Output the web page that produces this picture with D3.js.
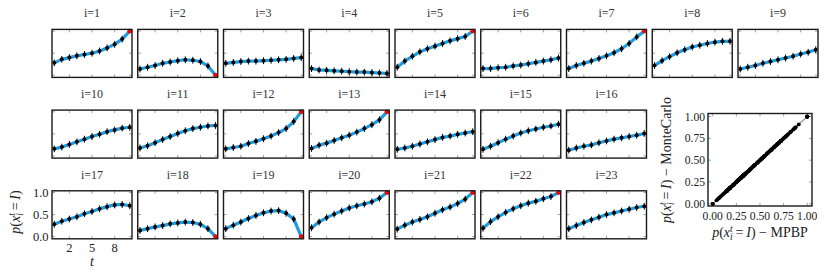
<!DOCTYPE html>
<html><head><meta charset="utf-8">
<script src="https://cdn.jsdelivr.net/npm/d3@7"></script>
<style>body{margin:0;background:#fff} svg{display:block} text{font-family:"Liberation Serif","Times New Roman",serif;}</style>
</head><body><svg id="c" width="831" height="277"></svg>
<script>
// probability of infection p(x_i^t = I) per node i, for t = 0..10
const p1  = [0.28,0.36,0.40,0.44,0.47,0.50,0.55,0.62,0.70,0.82,1.00];
const p2  = [0.14,0.18,0.22,0.27,0.30,0.33,0.35,0.34,0.31,0.21,0.00];
const p3  = [0.27,0.29,0.31,0.32,0.32,0.33,0.34,0.35,0.36,0.38,0.40];
const p4  = [0.15,0.12,0.11,0.10,0.09,0.08,0.07,0.07,0.06,0.05,0.04];
const p5  = [0.18,0.32,0.43,0.53,0.60,0.66,0.72,0.78,0.83,0.88,1.00];
const p6  = [0.15,0.15,0.17,0.18,0.21,0.23,0.26,0.29,0.32,0.35,0.39];
const p7  = [0.15,0.22,0.27,0.32,0.38,0.44,0.51,0.60,0.72,0.87,1.00];
const p8  = [0.22,0.33,0.42,0.51,0.58,0.64,0.68,0.72,0.75,0.77,0.77];
const p9  = [0.14,0.18,0.22,0.27,0.31,0.35,0.39,0.43,0.48,0.52,0.58];
const p10 = [0.16,0.20,0.26,0.32,0.38,0.44,0.49,0.55,0.59,0.63,0.65];
const p11 = [0.18,0.23,0.30,0.37,0.44,0.51,0.57,0.62,0.65,0.68,0.69];
const p12 = [0.16,0.19,0.22,0.28,0.33,0.39,0.45,0.53,0.62,0.78,1.00];
const p13 = [0.17,0.24,0.29,0.35,0.41,0.47,0.54,0.62,0.71,0.82,1.00];
const p14 = [0.15,0.18,0.22,0.27,0.32,0.37,0.42,0.45,0.49,0.52,0.55];
const p15 = [0.15,0.22,0.30,0.38,0.45,0.52,0.57,0.61,0.65,0.68,0.72];
const p16 = [0.13,0.18,0.22,0.25,0.30,0.34,0.38,0.41,0.44,0.47,0.51];
const p17 = [0.28,0.35,0.40,0.45,0.52,0.57,0.63,0.68,0.72,0.73,0.70];
const p18 = [0.14,0.18,0.22,0.25,0.29,0.31,0.33,0.32,0.28,0.18,0.00];
const p19 = [0.18,0.26,0.33,0.41,0.48,0.54,0.58,0.59,0.53,0.40,0.00];
const p20 = [0.20,0.33,0.43,0.51,0.58,0.65,0.70,0.74,0.79,0.87,1.00];
const p21 = [0.17,0.26,0.33,0.39,0.45,0.53,0.61,0.67,0.75,0.85,1.00];
const p22 = [0.19,0.34,0.45,0.55,0.63,0.70,0.76,0.80,0.86,0.91,1.00];
const p23 = [0.18,0.25,0.32,0.38,0.44,0.50,0.54,0.58,0.62,0.66,0.69];
const nodeSeries = [p1,p2,p3,p4,p5,p6,p7,p8,p9,p10,p11,p12,p13,p14,p15,p16,p17,p18,p19,p20,p21,p22,p23];
const nodeTitles = ["i=1","i=2","i=3","i=4","i=5","i=6","i=7","i=8","i=9","i=10","i=11","i=12",
  "i=13","i=14","i=15","i=16","i=17","i=18","i=19","i=20","i=21","i=22","i=23"];
const rowStarts = [1, 10, 17]; // first node of each row of panels
const observedFinal = [1,2,5,7,12,13,18,19,20,21,22]; // nodes whose final state is observed (red)
const timeSteps = [0,1,2,3,4,5,6,7,8,9,10];
const xTickValues = [2,5,8];
const xTickLabels = ["2","5","8"];
const yTickValues = [0,0.5,1];
const yTickLabels = ["0.0","0.5","1.0"];
const scatterTicks = [0,0.25,0.5,0.75,1];
const scatterTickLabels = ["0.00","0.25","0.50","0.75","1.00"];

const svg = d3.select("#c");
const PW = 80, PH = 48, colX0 = 52, colStep = 85.75;
const rowTops = [29.4, 110.1, 190.8];
const BLUE = "#1c9de3", TICK = "#8a8a8a", FRAME = "#1a1a1a";

const x = d3.scaleLinear().domain([-0.3, 10.3]).range([0, PW]);
const y = d3.scaleLinear().domain([-0.05, 1.04]).range([PH, 0]);

function mathLabel(g, tx, ty, rot, suffix, fs) {
  const t = g.append("text")
    .attr("transform", `translate(${tx},${ty}) rotate(${rot})`)
    .attr("text-anchor", "middle").attr("font-size", fs).attr("fill", "#222");
  t.append("tspan").attr("font-style", "italic").text("p");
  t.append("tspan").text("(");
  t.append("tspan").attr("font-style", "italic").text("x");
  t.append("tspan").attr("font-style", "italic").attr("font-size", fs*0.68).attr("dy", -fs*0.38).text("t");
  t.append("tspan").attr("font-style", "italic").attr("font-size", fs*0.68).attr("dx", -fs*0.19).attr("dy", fs*0.6).text("i");
  t.append("tspan").attr("dy", -fs*0.22).text("\u2009=\u2009");
  t.append("tspan").attr("font-style", "italic").text("I");
  t.append("tspan").text(")" + suffix);
}

nodeSeries.forEach((vals, k) => {
  const nodeId = k + 1;
  let row = 0;
  rowStarts.forEach((s, r) => { if (nodeId >= s) row = r; });
  const col = nodeId - rowStarts[row];
  const ox = colX0 + col * colStep, oy = rowTops[row];
  const g = svg.append("g").attr("transform", `translate(${ox},${oy})`);
  const hasObs = observedFinal.includes(nodeId);

  // ticks (inward, all sides)
  xTickValues.forEach(v => {
    g.append("line").attr("x1", x(v)).attr("x2", x(v)).attr("y1", 0).attr("y2", 3).attr("stroke", TICK).attr("stroke-width", 0.8);
    g.append("line").attr("x1", x(v)).attr("x2", x(v)).attr("y1", PH).attr("y2", PH-3).attr("stroke", TICK).attr("stroke-width", 0.8);
  });
  yTickValues.forEach(v => {
    g.append("line").attr("x1", 0).attr("x2", 3).attr("y1", y(v)).attr("y2", y(v)).attr("stroke", TICK).attr("stroke-width", 0.8);
    g.append("line").attr("x1", PW).attr("x2", PW-3).attr("y1", y(v)).attr("y2", y(v)).attr("stroke", TICK).attr("stroke-width", 0.8);
  });

  // MPBP line
  g.append("path").datum(vals)
    .attr("d", d3.line().x((d, i) => x(timeSteps[i])).y(d => y(d)))
    .attr("fill", "none").attr("stroke", BLUE).attr("stroke-width", 3.2).attr("stroke-linejoin", "round");

  // Monte Carlo points with error bars
  const mc = hasObs ? vals.slice(0, vals.length - 1) : vals;
  const pts = g.append("g");
  mc.forEach((d, i) => {
    pts.append("line").attr("x1", x(timeSteps[i])).attr("x2", x(timeSteps[i]))
      .attr("y1", y(d) - 3.4).attr("y2", y(d) + 3.4).attr("stroke", "#000").attr("stroke-width", 1.0);
    pts.append("circle").attr("cx", x(timeSteps[i])).attr("cy", y(d)).attr("r", 2.0).attr("fill", "#000");
  });
  if (hasObs) {
    const last = vals.length - 1;
    g.append("circle").attr("cx", x(timeSteps[last])).attr("cy", y(vals[last])).attr("r", 2.4).attr("fill", "#f00");
  }

  // frame
  g.append("rect").attr("x", 0).attr("y", 0).attr("width", PW).attr("height", PH)
    .attr("fill", "none").attr("stroke", FRAME).attr("stroke-width", 1.4);

  // title
  g.append("text").attr("x", PW/2).attr("y", -12).attr("text-anchor", "middle")
    .attr("font-size", 12).attr("fill", "#333").text(nodeTitles[k]);

  // axis labels on bottom-left panel (i=17)
  if (nodeId === 17) {
    yTickValues.forEach((v, j) => {
      g.append("text").attr("x", -3.5).attr("y", y(v) + 4.2).attr("text-anchor", "end")
        .attr("font-size", 12.5).attr("fill", "#222").text(yTickLabels[j]);
    });
    xTickValues.forEach((v, j) => {
      g.append("text").attr("x", x(v)).attr("y", PH + 13).attr("text-anchor", "middle")
        .attr("font-size", 12.5).attr("fill", "#222").text(xTickLabels[j]);
    });
    g.append("text").attr("x", PW/2).attr("y", PH + 27).attr("text-anchor", "middle")
      .attr("font-size", 14).attr("font-style", "italic").attr("fill", "#222").text("t");
  }
});

// y label for the panel grid
mathLabel(svg, 20, 212, -90, "", 14);

// scatter MPBP vs Monte Carlo
const sx = d3.scaleLinear().domain([-0.05, 1.05]).range([708, 812]);
const sy = d3.scaleLinear().domain([-0.025, 1.035]).range([206, 113.5]);
const sg = svg.append("g");
scatterTicks.forEach(v => {
  sg.append("line").attr("x1", sx(v)).attr("x2", sx(v)).attr("y1", sy.range()[1]).attr("y2", sy.range()[1] + 3).attr("stroke", TICK).attr("stroke-width", 0.8);
  sg.append("line").attr("x1", sx(v)).attr("x2", sx(v)).attr("y1", sy.range()[0]).attr("y2", sy.range()[0] - 3).attr("stroke", TICK).attr("stroke-width", 0.8);
  sg.append("line").attr("y1", sy(v)).attr("y2", sy(v)).attr("x1", sx.range()[0]).attr("x2", sx.range()[0] + 3).attr("stroke", TICK).attr("stroke-width", 0.8);
  sg.append("line").attr("y1", sy(v)).attr("y2", sy(v)).attr("x1", sx.range()[1]).attr("x2", sx.range()[1] - 3).attr("stroke", TICK).attr("stroke-width", 0.8);
});
sg.append("line").attr("x1", sx(0)).attr("y1", sy(0)).attr("x2", sx(1)).attr("y2", sy(1))
  .attr("stroke", "#999").attr("stroke-width", 1.4);
const scatterPts = [];
nodeSeries.forEach(vals => vals.forEach(v => scatterPts.push([v, v])));
sg.selectAll("circle.s").data(scatterPts).join("circle").attr("class", "s")
  .attr("cx", d => sx(d[0])).attr("cy", d => sy(d[1])).attr("r", 1.9).attr("fill", "#000");
sg.append("rect").attr("x", sx.range()[0]).attr("y", sy.range()[1])
  .attr("width", sx.range()[1] - sx.range()[0]).attr("height", sy.range()[0] - sy.range()[1])
  .attr("fill", "none").attr("stroke", FRAME).attr("stroke-width", 1.4);
scatterTicks.forEach((v, j) => {
  sg.append("text").attr("x", sx(v)).attr("y", 220).attr("text-anchor", "middle")
    .attr("font-size", 11.6).attr("fill", "#222").text(scatterTickLabels[j]);
  sg.append("text").attr("x", 705).attr("y", sy(v) + 4).attr("text-anchor", "end")
    .attr("font-size", 11.6).attr("fill", "#222").text(scatterTickLabels[j]);
});
mathLabel(svg, 760, 237, 0, " \u2212 MPBP", 14);
mathLabel(svg, 671, 160, -90, " \u2212 MonteCarlo", 14);
</script></body></html>
